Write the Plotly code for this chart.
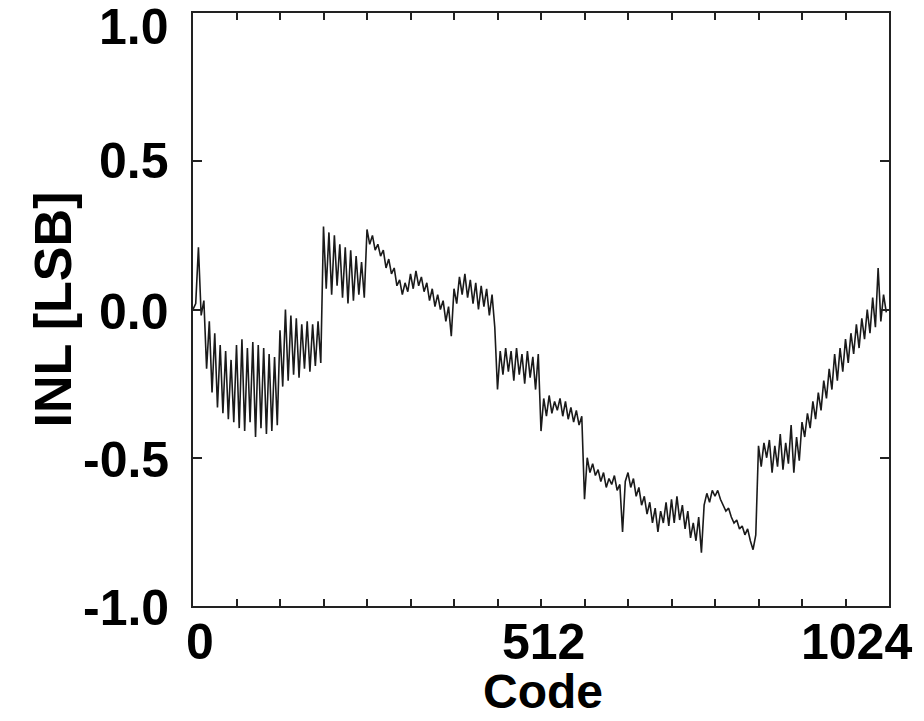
import plotly.graph_objects as go

# Output codes sampled every 4 LSB
codes = list(range(0, 1024, 4))

# INL values [LSB], in blocks of 64 codes
inl_block00 = [0.00, 0.02, 0.21, -0.02, 0.03, -0.20, -0.04, -0.28, -0.08, -0.33, -0.12, -0.35, -0.14, -0.37, -0.17, -0.38]
inl_block01 = [-0.12, -0.40, -0.10, -0.41, -0.13, -0.38, -0.11, -0.43, -0.12, -0.40, -0.13, -0.42, -0.15, -0.41, -0.16, -0.39]
inl_block02 = [-0.07, -0.26, 0.00, -0.24, -0.02, -0.22, -0.03, -0.23, -0.05, -0.20, -0.04, -0.21, -0.05, -0.19, -0.04, -0.18]
inl_block03 = [0.28, 0.07, 0.26, 0.05, 0.25, 0.08, 0.22, 0.04, 0.21, 0.02, 0.20, 0.03, 0.18, 0.05, 0.16, 0.04]
inl_block04 = [0.27, 0.22, 0.25, 0.20, 0.22, 0.18, 0.20, 0.14, 0.17, 0.12, 0.14, 0.08, 0.10, 0.05, 0.09, 0.06]
inl_block05 = [0.12, 0.07, 0.13, 0.08, 0.11, 0.06, 0.09, 0.03, 0.07, 0.01, 0.05, 0.00, 0.03, -0.04, 0.01, -0.09]
inl_block06 = [0.07, 0.02, 0.11, 0.05, 0.12, 0.04, 0.10, 0.02, 0.09, 0.00, 0.08, 0.01, 0.07, -0.02, 0.05, -0.06]
inl_block07 = [-0.27, -0.14, -0.22, -0.13, -0.21, -0.14, -0.24, -0.13, -0.22, -0.15, -0.25, -0.14, -0.23, -0.16, -0.27, -0.15]
inl_block08 = [-0.41, -0.30, -0.36, -0.29, -0.35, -0.31, -0.34, -0.30, -0.36, -0.31, -0.37, -0.33, -0.38, -0.34, -0.39, -0.36]
inl_block09 = [-0.64, -0.50, -0.55, -0.52, -0.56, -0.54, -0.58, -0.55, -0.60, -0.57, -0.59, -0.56, -0.61, -0.59, -0.75, -0.58]
inl_block10 = [-0.55, -0.60, -0.57, -0.63, -0.60, -0.66, -0.63, -0.69, -0.65, -0.72, -0.67, -0.75, -0.68, -0.72, -0.65, -0.73]
inl_block11 = [-0.64, -0.72, -0.63, -0.71, -0.66, -0.74, -0.68, -0.77, -0.72, -0.78, -0.70, -0.82, -0.66, -0.62, -0.65, -0.61]
inl_block12 = [-0.63, -0.61, -0.64, -0.66, -0.68, -0.67, -0.70, -0.72, -0.71, -0.74, -0.73, -0.76, -0.74, -0.78, -0.81, -0.76]
inl_block13 = [-0.46, -0.53, -0.45, -0.50, -0.44, -0.55, -0.46, -0.53, -0.42, -0.54, -0.45, -0.52, -0.39, -0.55, -0.43, -0.51]
inl_block14 = [-0.38, -0.43, -0.35, -0.40, -0.31, -0.37, -0.28, -0.34, -0.24, -0.30, -0.20, -0.27, -0.15, -0.24, -0.13, -0.21]
inl_block15 = [-0.10, -0.18, -0.08, -0.15, -0.05, -0.13, -0.03, -0.10, 0.00, -0.08, 0.04, -0.06, 0.14, -0.04, 0.05, -0.01]

inl = (inl_block00 + inl_block01 + inl_block02 + inl_block03 + inl_block04 + inl_block05
       + inl_block06 + inl_block07 + inl_block08 + inl_block09 + inl_block10 + inl_block11
       + inl_block12 + inl_block13 + inl_block14 + inl_block15)

x_tick_vals = list(range(0, 1025, 64))
x_label_vals = [0, 512, 1024]
x_label_text = ["0", "512", "1024"]
y_tick_vals = [-1.0, -0.5, 0.0, 0.5, 1.0]
y_tick_text = ["-1.0", "-0.5", "0.0", "0.5", "1.0"]

FONT = "Liberation Sans, Arial, Helvetica, sans-serif"

fig = go.Figure()
fig.add_trace(go.Scatter(
    x=codes, y=inl, mode="lines",
    line=dict(color="#1a1a1a", width=1.6),
    showlegend=False,
))

fig.update_layout(
    width=924, height=721,
    margin=dict(l=193, r=35, t=11, b=115),
    paper_bgcolor="white", plot_bgcolor="white",
    xaxis=dict(
        range=[0, 1024], tickvals=x_tick_vals, showticklabels=False,
        ticks="inside", ticklen=7, tickwidth=1.5, tickcolor="#222",
        showline=True, linecolor="#222", linewidth=2, mirror="ticks",
        showgrid=False, zeroline=False,
    ),
    yaxis=dict(
        range=[-1.0, 1.0], tickvals=y_tick_vals, showticklabels=False,
        ticks="inside", ticklen=9, tickwidth=2, tickcolor="#222",
        showline=True, linecolor="#222", linewidth=2, mirror="ticks",
        showgrid=False, zeroline=False,
    ),
)

annotations = []
for v, t in zip(x_label_vals, x_label_text):
    shift = {0: 7, 512: 2, 1024: -33}[v]
    annotations.append(dict(
        x=v, y=0, xref="x", yref="paper", text=t, showarrow=False,
        xanchor="center", yanchor="top", yshift=-6, xshift=shift,
        font=dict(family=FONT, size=50, color="black", weight="bold"),
    ))
for v, t in zip(y_tick_vals, y_tick_text):
    annotations.append(dict(
        x=0, y=v, xref="paper", yref="y", text=t, showarrow=False,
        xanchor="right", yanchor="middle", xshift=-22,
        yshift=(-14 if v == 1.0 else (-2 if v != 0.5 else 0)),
        font=dict(family=FONT, size=50, color="black", weight="bold"),
    ))
annotations.append(dict(
    x=0.5, y=0, xref="paper", yref="paper", text="Code", showarrow=False,
    xanchor="center", yanchor="top", yshift=-57, xshift=2,
    font=dict(family=FONT, size=48, color="black", weight="bold"),
))
annotations.append(dict(
    x=0, y=0.5, xref="paper", yref="paper", text="INL [LSB]", showarrow=False,
    xanchor="center", yanchor="middle", xshift=-141, yshift=0, textangle=-90,
    font=dict(family=FONT, size=52, color="black", weight="bold"),
))
fig.update_layout(annotations=annotations)

fig.write_html("out.html")
